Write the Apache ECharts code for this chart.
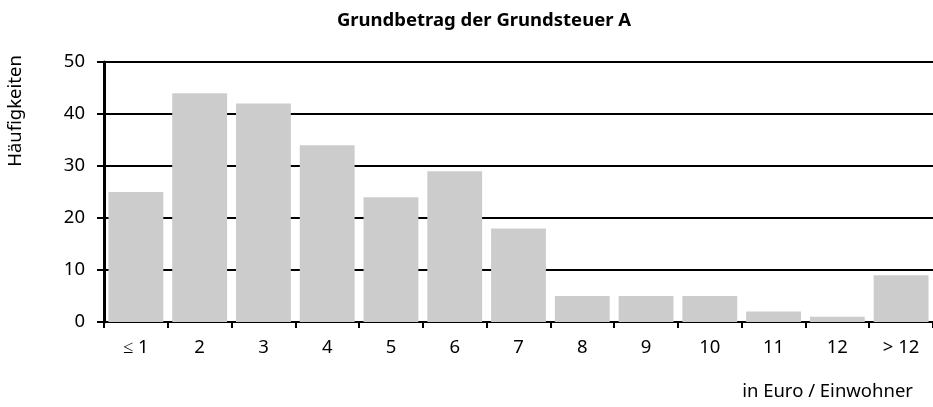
<!DOCTYPE html>
<html>
<head>
<meta charset="utf-8">
<script src="https://cdn.jsdelivr.net/npm/echarts@6/dist/echarts.min.js"></script>
<style>
  html, body { margin: 0; padding: 0; background: #fff; }
  #main { width: 933px; height: 407px; }
</style>
</head>
<body>
<div id="main"></div>
<script>
// Werte
var categories = ['≤ 1', '2', '3', '4', '5', '6', '7', '8', '9', '10', '11', '12', '> 12'];
var counts = [25, 44, 42, 34, 24, 29, 18, 5, 5, 5, 2, 1, 9];
var yTicks = [0, 10, 20, 30, 40, 50];

var font = 'Noto Sans';
var myChart = echarts.init(document.getElementById('main'));

var option = {
    animation: false,
    title: {
        text: 'Grundbetrag der Grundsteuer A',
        left: 479,
        top: 6,
        textAlign: 'center',
        textStyle: { fontFamily: font, fontSize: 18.5, fontWeight: 'bold', color: '#000' }
    },
    grid: { left: 104, right: 0, top: 62, bottom: 85 },
    xAxis: {
        type: 'category',
        data: categories,
        axisLine: { lineStyle: { color: '#000', width: 2 } },
        axisTick: { show: true, length: 6, lineStyle: { color: '#000', width: 2 } },
        axisLabel: { fontFamily: font, fontSize: 18.5, color: '#000', margin: 16 }
    },
    yAxis: {
        type: 'value',
        min: yTicks[0],
        max: yTicks[yTicks.length - 1],
        interval: 10,
        axisLine: { show: true, lineStyle: { color: '#000', width: 3 } },
        axisTick: { show: true, length: 7, lineStyle: { color: '#000', width: 2 } },
        splitLine: { show: true, lineStyle: { color: '#000', width: 2 } },
        axisLabel: { fontFamily: font, fontSize: 18.5, color: '#000', margin: 19 }
    },
    graphic: [
        {
            type: 'text',
            x: 16,
            y: 111,
            rotation: Math.PI / 2,
            style: {
                text: 'Häufigkeiten',
                fontFamily: font,
                fontSize: 18.5,
                fill: '#000',
                textAlign: 'center',
                textVerticalAlign: 'middle'
            }
        },
        {
            type: 'text',
            right: 20,
            top: 382,
            style: {
                text: 'in Euro / Einwohner',
                fontFamily: font,
                fontSize: 18.5,
                fill: '#000'
            }
        }
    ],
    series: [{
        type: 'bar',
        data: counts,
        barCategoryGap: '14%',
        itemStyle: { color: '#cccccc' }
    }]
};

myChart.setOption(option);
</script>
</body>
</html>
